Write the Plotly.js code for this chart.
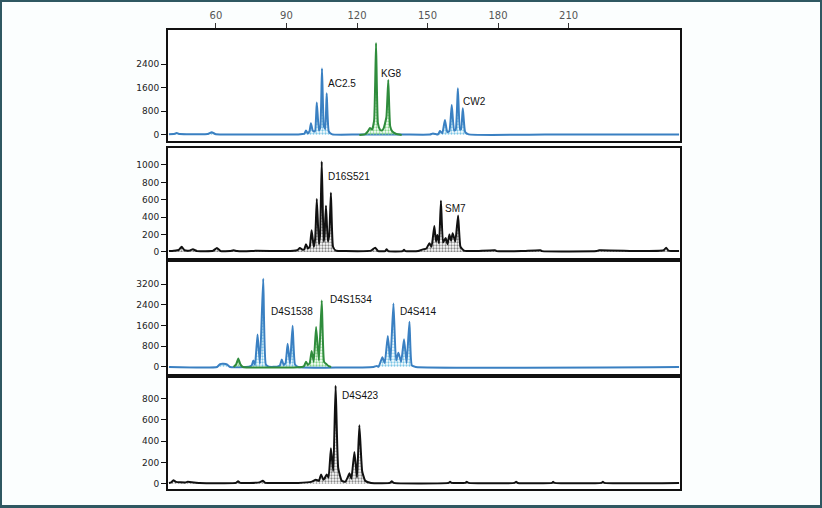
<!DOCTYPE html>
<html>
<head>
<meta charset="utf-8">
<script src="https://cdn.plot.ly/plotly-3.0.1.min.js"></script>
<style>
  body { margin: 0; background: #fff; }
  #wrap { position: relative; width: 822px; height: 508px; }
  #frame { position: absolute; left: 0; top: 0; width: 822px; height: 508px; box-sizing: border-box;
           border: 2px solid #2f5862; border-bottom-width: 3px; pointer-events: none; }
</style>
</head>
<body>
<div id="wrap">
  <div id="plotArea" style="width:822px;height:508px;"></div>
  <div id="frame"></div>
</div>
<script>
// panel 1 - blue dye (AC2.5, CW2)
var p1BlueX = [40, 42, 43.3, 44.6, 48, 56.5, 58.2, 60, 75, 95,
    96.8, 97.6, 98.3, 99.1, 99.8, 100.4, 101.2, 102.1, 102.9, 103.8,
    104.4, 105.1, 105.9, 106.5, 107.1, 108, 109.5, 120, 140, 151,
    152.3, 153.5, 154.5, 155.3, 156.3, 157.4, 158.4, 159.3, 160.3, 161.3,
    162.0, 162.9, 163.8, 164.3, 165.0, 166, 167.5, 200, 257];
var p1BlueY = [25, 30, 70, 30, 25, 30, 90, 25, 20, 20,
    30, 40, 150, 50, 130, 400, 140, 120, 1100, 150,
    250, 2250, 300, 200, 1410, 120, 20, 15, 15, 15,
    50, 30, 20, 135, 60, 510, 100, 130, 1010, 150,
    180, 1580, 180, 200, 900, 100, 20, 15, 15];

// panel 1 - green dye (KG8)
var p1GreenX = [121, 123.5, 124.6, 125.5, 126.4, 127.3, 128.1, 128.9, 129.8, 130.5, 131.3, 132.5, 133.3, 134.1, 135, 136.5, 139];
var p1GreenY = [0, 30, 120, 240, 180, 500, 3110, 400, 180, 150, 220, 600, 1860, 300, 120, 40, 0];

// panel 2 - black dye (D16S521, SM7)
var p2X = [40, 42, 44.2, 45.4, 46.6, 48.5, 50.2, 52, 58.8, 60.4,
    62, 66, 67.5, 69, 75, 77, 90, 94.5, 95.7, 96.9,
    97.6, 98.3, 99.1, 99.9, 100.7, 101.6, 102.2, 102.9, 103.8, 104.3,
    105.0, 105.8, 106.2, 106.8, 107.6, 108.2, 108.9, 109.8, 111, 115,
    126, 127.7, 129, 132, 132.6, 133.3, 139.4, 140, 140.6, 146,
    148, 149.5, 150.8, 151.7, 152.9, 153.6, 154.2, 154.9, 155.7, 156.6,
    157.7, 158.5, 159.3, 160, 160.7, 161.8, 163.0, 164, 165.5, 170,
    178.7, 179.4, 190, 198, 198.7, 222, 223, 240, 250.5, 251.5,
    252.5, 257];
var p2Y = [10, 15, 25, 60, 20, 15, 30, 10, 15, 45,
    10, 10, 20, 10, 10, 15, 10, 20, 45, 25,
    30, 90, 40, 60, 250, 60, 150, 610, 90, 200,
    1040, 120, 200, 530, 120, 200, 680, 60, 15, 10,
    15, 50, 10, 10, 30, 10, 10, 25, 10, 10,
    30, 40, 100, 60, 300, 120, 195, 100, 590, 110,
    160, 90, 200, 130, 215, 120, 420, 60, 15, 10,
    20, 10, 10, 20, 10, 10, 20, 10, 20, 50,
    15, 10];

// panel 3 - blue dye (D4S1538, D4S414)
var p3BlueX = [40, 60.5, 61.7, 63.2, 64.7, 66, 74, 75.2, 75.9, 76.6,
    77.7, 78.7, 80.1, 81.2, 82.5, 86, 87.2, 88.0, 88.8, 89.6,
    90.5, 91.5, 92.6, 93.6, 95, 127, 128.4, 129.2, 130.8, 131.8,
    133.1, 134.2, 135.5, 136.6, 137.6, 138.8, 140.0, 141.1, 142.3, 143.3,
    145, 257];
var p3BlueY = [0, 0, 110, 120, 100, 0, 10, 60, 250, 80,
    1260, 120, 3410, 100, 10, 10, 60, 290, 80, 150,
    900, 120, 1590, 100, 0, 0, 40, 10, 380, 150,
    1200, 250, 2460, 250, 550, 200, 1070, 150, 1750, 60,
    0, 0];

// panel 3 - green dye (D4S1534)
var p3GreenX = [67.5, 68.6, 69.5, 70.4, 71.5, 96.5, 97.5, 98.3, 99.1, 99.9, 100.7, 101.6, 102.6, 103.8, 105.0, 106.0, 107.1, 108, 109];
var p3GreenY = [0, 100, 330, 100, 0, 0, 40, 200, 80, 150, 620, 200, 1550, 250, 2570, 200, 100, 30, 0];

// panel 4 - black dye (D4S423)
var p4X = [40, 41, 41.9, 43, 47, 48, 53, 68.5, 69.4, 70.3,
    78.5, 79.9, 81, 84, 95, 100.5, 102.5, 103.8, 104.7, 105.7,
    106.4, 107.1, 107.9, 108.9, 109.9, 110.9, 112, 113.5, 115, 116,
    116.8, 117.6, 118.9, 120, 121.0, 122.2, 123.5, 126, 134, 134.8,
    135.6, 159, 159.6, 160.2, 166, 166.7, 167.4, 187, 187.7, 188.4,
    203, 203.4, 204, 224, 224.6, 225.2, 257];
var p4Y = [10, 15, 35, 20, 15, 20, 10, 10, 25, 10,
    15, 30, 10, 10, 10, 20, 40, 30, 90, 40,
    60, 90, 60, 335, 120, 920, 150, 30, 20, 60,
    100, 50, 300, 60, 550, 120, 30, 10, 10, 25,
    10, 10, 20, 10, 10, 20, 10, 10, 20, 10,
    10, 20, 10, 10, 20, 10, 10];

// axis ticks
var sizeTicks = [60, 90, 120, 150, 180, 210];
var p1Ticks = [0, 800, 1600, 2400];
var p2Ticks = [0, 200, 400, 600, 800, 1000];
var p3Ticks = [0, 800, 1600, 2400, 3200];
var p4Ticks = [0, 200, 400, 600, 800];

// marker labels
var labelText = ["AC2.5", "KG8", "CW2", "D16S521", "SM7", "D4S1538", "D4S1534", "D4S414", "D4S423"];
var labelX = [106.8, 129.4, 164.3, 106.8, 156.6, 82.6, 107.7, 137.4, 112.8];
var labelY = [1730, 2080, 1120, 870, 500, 2150, 2620, 2150, 830];
var labelPanel = [1, 1, 1, 2, 2, 3, 3, 3, 4];

var BLUE = "#3a80c2", GREEN = "#2f8c3c", BLACK = "#111111";

function trace(x, y, color, dots, n) {
    return {
        x: x, y: y, type: "scatter", mode: "lines",
        line: { color: color, width: 2, shape: "spline", smoothing: 0.4 },
        fill: "tozeroy", fillcolor: "rgba(255,255,255,0)",
        fillpattern: { shape: ".", fgcolor: dots, bgcolor: "rgba(255,255,255,0)", size: 3, solidity: 0.45 },
        xaxis: n == 1 ? "x" : "x" + n, yaxis: n == 1 ? "y" : "y" + n,
        hoverinfo: "skip", showlegend: false
    };
}

var data = [
    trace(p1BlueX, p1BlueY, BLUE, "#7cc6e6", 1),
    trace(p1GreenX, p1GreenY, GREEN, "#86d48a", 1),
    trace(p2X, p2Y, BLACK, "#888888", 2),
    trace(p3BlueX, p3BlueY, BLUE, "#7cc6e6", 3),
    trace(p3GreenX, p3GreenY, GREEN, "#86d48a", 3),
    trace(p4X, p4Y, BLACK, "#888888", 4)
];

var xRange = [39.6, 257.4];
function xax(anchor) {
    return { range: xRange, anchor: anchor, showline: true, mirror: true, linecolor: BLACK, linewidth: 2,
             showticklabels: false, ticks: "", showgrid: false, zeroline: false };
}
function yax(domain, range, vals, anchor) {
    return { domain: domain, range: range, anchor: anchor, showline: true, mirror: true, linecolor: BLACK, linewidth: 2,
             tickvals: vals, ticks: "outside", ticklen: 5, tickwidth: 1, tickcolor: BLACK,
             tickfont: { family: "DejaVu Sans", size: 9, color: "#222" }, showgrid: false, zeroline: false };
}

// top panel carries the size scale
var topX = xax("y");
topX.side = "top";
topX.showticklabels = true;
topX.tickvals = sizeTicks;
topX.ticks = "outside";
topX.ticklen = 5;
topX.tickwidth = 1;
topX.tickcolor = "#333";
topX.tickfont = { family: "DejaVu Sans", size: 10, color: "#555" };

var annotations = labelText.map(function (t, i) {
    var n = labelPanel[i];
    return { text: t, x: labelX[i], y: labelY[i], xref: n == 1 ? "x" : "x" + n, yref: n == 1 ? "y" : "y" + n,
             xanchor: "left", yanchor: "middle", showarrow: false,
             font: { family: "Liberation Sans", size: 10, color: "#111" } };
});

var layout = {
    width: 822, height: 508,
    margin: { l: 168, r: 142, t: 30, b: 19 },
    paper_bgcolor: "#fbfefe", plot_bgcolor: "#ffffff",
    showlegend: false,
    xaxis: topX,
    xaxis2: xax("y2"),
    xaxis3: xax("y3"),
    xaxis4: xax("y4"),
    yaxis: yax([0.7582, 1], [-203, 3550], p1Ticks, "x"),
    yaxis2: yax([0.5033, 0.7429], [-69, 1195], p2Ticks, "x2"),
    yaxis3: yax([0.2505, 0.4946], [-273, 4062], p3Ticks, "x3"),
    yaxis4: yax([0, 0.2418], [-47, 993], p4Ticks, "x4"),
    annotations: annotations
};

Plotly.newPlot("plotArea", data, layout, { displayModeBar: false, staticPlot: true });
</script>
</body>
</html>
